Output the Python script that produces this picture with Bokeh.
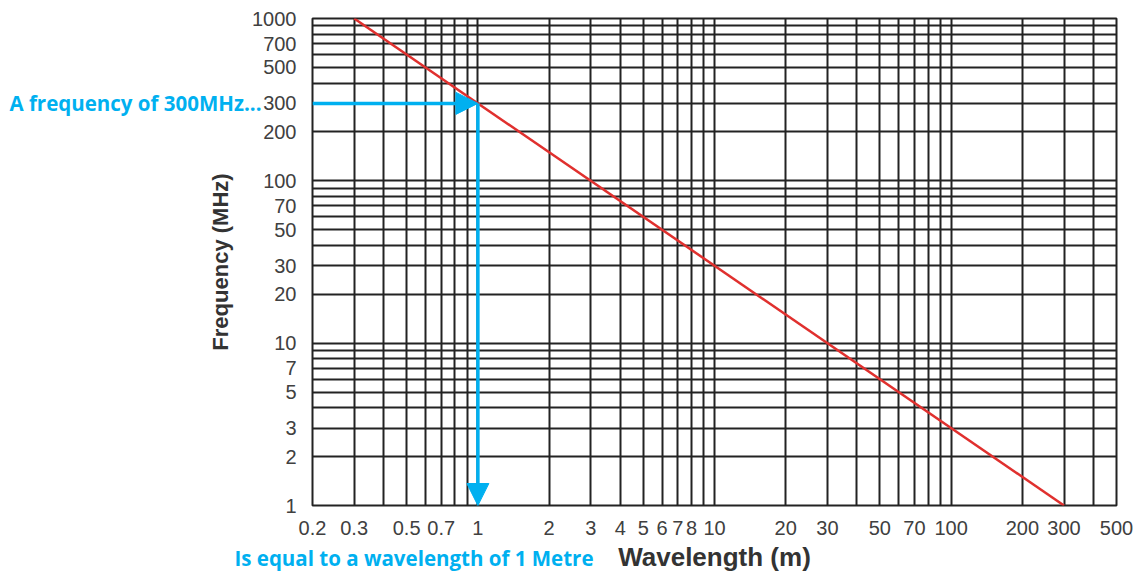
import math
from bokeh.plotting import figure
from bokeh.models import (FixedTicker, CustomJSTickFormatter, Arrow, NormalHead, LogAxis)
from bokeh.embed import file_html
from bokeh.resources import INLINE

# ---- data ----
wavelength_m = [0.3, 300]
frequency_mhz = [1000, 1]

x_tick_values = [0.2, 0.3, 0.5, 0.7, 1, 2, 3, 4, 5, 6, 7, 8, 10, 20, 30, 50, 70, 100, 200, 300, 500]
x_grid_extra = [0.4, 0.6, 0.8, 0.9, 9, 40, 60, 80, 90, 400]
y_tick_values = [1, 2, 3, 5, 7, 10, 20, 30, 50, 70, 100, 200, 300, 500, 700, 1000]
y_grid_extra = [4, 6, 8, 9, 40, 60, 80, 90, 400, 600, 800, 900]

example_freq_mhz = 300
example_wavelength_m = 1
x_min, x_max = 0.2, 500
y_min, y_max = 1, 1000

freq_note = "A frequency of 300MHz..."
wave_note = "Is equal to a wavelength of 1 Metre"

BLUE = "#00B0F0"
RED = "#e0302e"
GRID = "#232323"

W, H = 1140, 574
BL, BR, BT, BB = 312, 24, 18, 69

p = figure(width=W, height=H, x_axis_type="log", y_axis_type="log",
           x_range=(x_min, x_max), y_range=(y_min, y_max),
           output_backend="svg", toolbar_location=None,
           min_border_left=BL, min_border_right=BR, min_border_top=BT, min_border_bottom=BB)
p.background_fill_color = "white"
p.border_fill_color = "white"
p.outline_line_color = GRID
p.outline_line_width = 2

fmt = CustomJSTickFormatter(code="return String(tick)")
p.xaxis.ticker = FixedTicker(ticks=x_tick_values, minor_ticks=x_grid_extra)
p.yaxis.ticker = FixedTicker(ticks=y_tick_values, minor_ticks=y_grid_extra)
p.xgrid.ticker = FixedTicker(ticks=x_tick_values, minor_ticks=x_grid_extra)
p.ygrid.ticker = FixedTicker(ticks=y_tick_values, minor_ticks=y_grid_extra)


def plain(ax):
    ax.axis_line_color = None
    ax.major_tick_line_color = None
    ax.minor_tick_line_color = None


for ax in (p.xaxis[0], p.yaxis[0]):
    ax.formatter = fmt
    plain(ax)
    ax.major_label_text_font = "Liberation Sans"
    ax.major_label_text_font_size = "20px"
    ax.major_label_text_color = "#404040"
    ax.axis_label_text_font = "Liberation Sans"
    ax.axis_label_text_font_style = "bold"
    ax.axis_label_text_color = "#333333"
p.xaxis.major_label_standoff = 9
p.yaxis.major_label_standoff = 10
p.xaxis.axis_label = "Wavelength (m)"
p.yaxis.axis_label = "Frequency (MHz)"
p.xaxis.axis_label_text_font_size = "26px"
p.yaxis.axis_label_text_font_size = "22px"
p.xaxis.axis_label_standoff = 4
p.yaxis.axis_label_standoff = 16

for g in (p.xgrid[0], p.ygrid[0]):
    g.grid_line_color = GRID
    g.grid_line_width = 2
    g.grid_line_alpha = 1
    g.minor_grid_line_color = GRID
    g.minor_grid_line_width = 2

p.line(wavelength_m, frequency_mhz, line_color=RED, line_width=2.5)

p.add_layout(Arrow(end=NormalHead(size=22, fill_color=BLUE, line_color=BLUE),
                   x_start=x_min, y_start=example_freq_mhz,
                   x_end=example_wavelength_m, y_end=example_freq_mhz,
                   line_color=BLUE, line_width=3.5))
p.add_layout(Arrow(end=NormalHead(size=22, fill_color=BLUE, line_color=BLUE),
                   x_start=example_wavelength_m, y_start=example_freq_mhz,
                   x_end=example_wavelength_m, y_end=y_min,
                   line_color=BLUE, line_width=3.5))

# blue notes, drawn as tick labels of extra (line-less) axes so they sit outside the frame
note_left = LogAxis(ticker=FixedTicker(ticks=[example_freq_mhz]),
                    formatter=CustomJSTickFormatter(args=dict(t=freq_note), code="return t"))
plain(note_left)
note_left.major_label_standoff = -62
p.add_layout(note_left, "left")

frame_w = W - BL - BR
caption_center_px = 101.5  # from frame left
caption_x = x_min * 10 ** (caption_center_px / frame_w * math.log10(x_max / x_min))
note_below = LogAxis(ticker=FixedTicker(ticks=[caption_x]),
                     formatter=CustomJSTickFormatter(args=dict(t=wave_note), code="return t"))
plain(note_below)
note_below.major_label_standoff = -37
p.add_layout(note_below, "below")

for ax in (note_left, note_below):
    ax.major_label_text_font = "Open Sans"
    ax.major_label_text_font_style = "bold"
    ax.major_label_text_font_size = "20.5px"
    ax.major_label_text_color = BLUE

open("out.html", "w").write(file_html(p, INLINE))
